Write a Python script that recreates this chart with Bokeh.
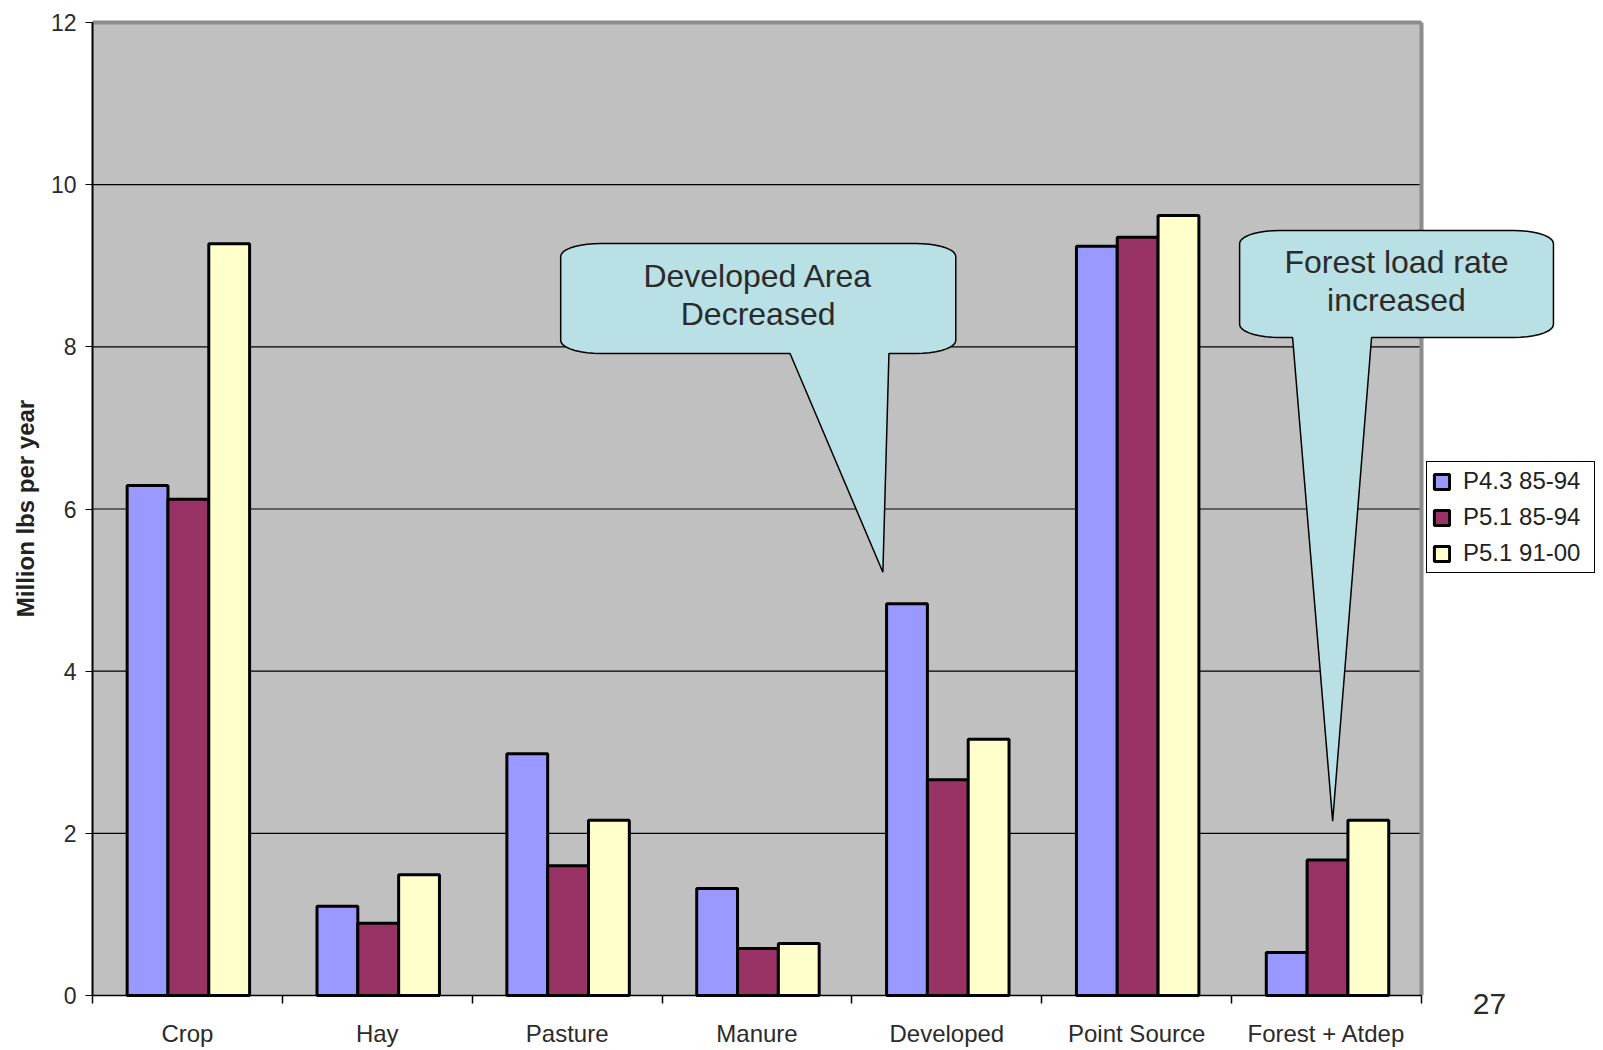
import numpy as np
from bokeh.plotting import figure
from bokeh.models import (Range1d, FixedTicker, Legend, LegendItem, Label,
                          PolyAnnotation, ColumnDataSource)
from bokeh.embed import file_html
from bokeh.resources import INLINE

# Loads by source sector, million lbs per year
categories = ["Crop", "Hay", "Pasture", "Manure", "Developed", "Point Source", "Forest + Atdep"]
p43_85_94 = [6.29, 1.10, 2.98, 1.32, 4.83, 9.24, 0.53]
p51_85_94 = [6.12, 0.89, 1.60, 0.58, 2.66, 9.35, 1.67]
p51_91_00 = [9.27, 1.49, 2.16, 0.64, 3.16, 9.62, 2.16]
series_names = ["P4.3 85-94", "P5.1 85-94", "P5.1 91-00"]
series_colors = ["#9999FF", "#993366", "#FFFFCC"]
y_ticks = [0, 2, 4, 6, 8, 10, 12]

FONT = "Liberation Sans"
TEXT = "#2b2b2b"
N = len(categories)
YMAX = y_ticks[-1]

# The frame covers the whole page; the grey plot area sits at 92..1421 px
# across and 22..995 px down, and both axes are pinned to its edges so that
# the callouts, legend and page number around it are drawn too.
px_x = 1329 / N
px_y = 973 / YMAX
p = figure(width=1603, height=1050,
           min_border_left=0, min_border_right=0, min_border_top=0, min_border_bottom=0,
           x_range=Range1d(-92 / px_x, (1603 - 92) / px_x),
           y_range=Range1d(-55 / px_y, YMAX + 22 / px_y),
           output_backend="svg", toolbar_location=None,
           background_fill_color="white", border_fill_color="white")
p.outline_line_color = None
p.xgrid.visible = False
p.ygrid.visible = False

# grey plot area and its gridlines
p.quad(left=0, right=N, bottom=0, top=YMAX, fill_color="#C0C0C0", line_color=None)
p.segment(x0=0, x1=N, y0=y_ticks[1:-1], y1=y_ticks[1:-1], line_color="black", line_width=1.2)
p.segment(x0=[0, N], x1=[N, N], y0=[YMAX, 0], y1=[YMAX, YMAX], line_color="#8C8C8C", line_width=4)

# grouped bars
centers = np.arange(N) + 0.505
bw = 0.215
offsets = [-bw, 0.0, bw]
renderers = []
for vals, off, col in zip([p43_85_94, p51_85_94, p51_91_00], offsets, series_colors):
    src = ColumnDataSource(dict(x=centers + off, top=vals))
    r = p.vbar(x="x", top="top", bottom=0, width=bw, source=src,
               fill_color=col, line_color="black", line_width=3)
    renderers.append(r)

# axes
yax = p.yaxis[0]
yax.fixed_location = 0
yax.ticker = FixedTicker(ticks=y_ticks)
yax.bounds = (0, YMAX)
yax.axis_line_color = "black"
yax.axis_line_width = 2
yax.major_tick_in = 0
yax.major_tick_out = 7
yax.minor_tick_out = 0
yax.major_tick_line_color = "black"
yax.major_label_text_font = FONT
yax.major_label_text_font_size = "23px"
yax.major_label_text_color = TEXT
yax.major_label_standoff = 9

p.add_layout(Label(x=-67 / px_x, y=(995 - 508) / px_y, text="Million lbs per year",
                   angle=np.pi / 2, text_align="center", text_baseline="middle",
                   text_font=FONT, text_font_style="bold", text_font_size="24px",
                   text_color="#222222"))

xax = p.xaxis[0]
xax.fixed_location = 0
xax.bounds = (0, N)
xax.ticker = FixedTicker(ticks=[i + 0.5 for i in range(N)], minor_ticks=list(range(N + 1)))
xax.major_label_overrides = {i + 0.5: c for i, c in enumerate(categories)}
xax.axis_line_color = "black"
xax.axis_line_width = 1.5
xax.major_tick_in = 0
xax.major_tick_out = 0
xax.minor_tick_in = 0
xax.minor_tick_out = 8
xax.minor_tick_line_color = "black"
xax.minor_tick_line_width = 1.5
xax.major_label_text_font = FONT
xax.major_label_text_font_size = "24px"
xax.major_label_text_color = TEXT
xax.major_label_standoff = 16


def bubble(x0, x1, y0, y1, rx, ry, tail_l, tail_r, tip):
    """Outline of a rounded speech bubble with a tail on its bottom edge."""
    xs, ys = [], []

    def corner(cx, cy, a0, a1):
        for a in np.linspace(a0, a1, 10):
            xs.append(cx + rx * np.cos(a))
            ys.append(cy + ry * np.sin(a))

    corner(x0 + rx, y1 - ry, np.pi, np.pi / 2)
    corner(x1 - rx, y1 - ry, np.pi / 2, 0)
    corner(x1 - rx, y0 + ry, 0, -np.pi / 2)
    xs += [tail_r, tip[0], tail_l]
    ys += [y0, tip[1], y0]
    corner(x0 + rx, y0 + ry, -np.pi / 2, -np.pi)
    return xs, ys


CALLOUT_FILL = "#B9E0E4"
callouts = [
    dict(box=(2.466, 4.547, 7.918, 9.275), tail=(3.674, 4.195), tip=(4.163, 5.22),
         lines=["Developed Area", "Decreased"], tx=3.506, ty=[8.87, 8.40]),
    dict(box=(6.042, 7.695, 8.115, 9.435), tail=(6.321, 6.737), tip=(6.532, 2.15),
         lines=["Forest load rate", "increased"], tx=6.868, ty=[9.045, 8.58]),
]
for c in callouts:
    x0, x1, y0, y1 = c["box"]
    xs, ys = bubble(x0, x1, y0, y1, 0.21, 0.16, c["tail"][0], c["tail"][1], c["tip"])
    p.add_layout(PolyAnnotation(xs=xs, ys=ys, fill_color=CALLOUT_FILL, fill_alpha=1.0,
                                line_color="black", line_alpha=1.0, line_width=1.5))
    for txt, ty in zip(c["lines"], c["ty"]):
        p.add_layout(Label(x=c["tx"], y=ty, text=txt, text_align="center",
                           text_baseline="middle", text_font=FONT,
                           text_font_size="32px", text_color=TEXT))

# page number
p.add_layout(Label(x=7.358, y=-0.11, text="27", text_align="center", text_baseline="middle",
                   text_font=FONT, text_font_size="30px", text_color=TEXT))

legend = Legend(items=[LegendItem(label=n, renderers=[r]) for n, r in zip(series_names, renderers)],
                location=(1426, 1050 - 573))
legend.border_line_color = "black"
legend.border_line_width = 1.5
legend.border_line_alpha = 1.0
legend.background_fill_color = "white"
legend.background_fill_alpha = 1.0
legend.label_text_font = FONT
legend.label_text_font_size = "24px"
legend.label_text_color = "#222222"
legend.glyph_width = 19
legend.glyph_height = 19
legend.label_standoff = 12
legend.label_width = 126
legend.padding = 5
legend.spacing = 8
legend.margin = 0
p.add_layout(legend)

open("out.html", "w").write(file_html(p, INLINE))
